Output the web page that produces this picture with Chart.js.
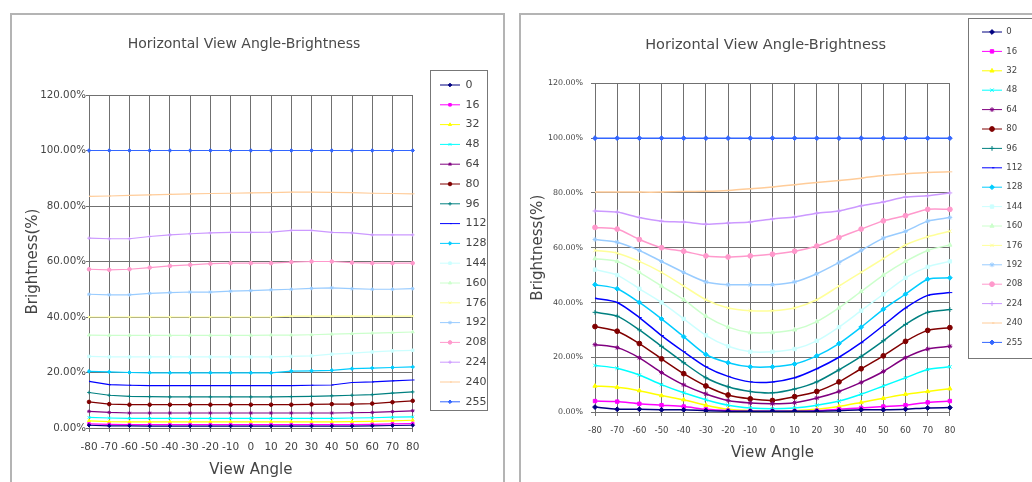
<!DOCTYPE html>
<html>
<head>
<meta charset="utf-8">
<title>Horizontal View Angle-Brightness</title>
<script src="https://cdn.jsdelivr.net/npm/chart.js@4.4.1/dist/chart.umd.min.js"></script>
<style>
    html, body {
        margin: 0;
        padding: 0;
        width: 1032px;
        height: 482px;
        overflow: hidden;
        background: #fff;
    }
    .panel {
        position: absolute;
        box-sizing: border-box;
        border: 2px solid #b4b4b4;
        background: #fff;
    }
    #leftPanel { left: 10px; top: 13px; width: 495px; height: 520px; }
    #rightPanel { left: 519px; top: 13px; width: 600px; height: 520px; }
    canvas { position: absolute; }
    #leftChart { left: 10px; top: 13px; }
    #rightChart { left: 520px; top: 13px; }
</style>
</head>
<body>
<div class="panel" id="leftPanel"></div>
<div class="panel" id="rightPanel"></div>
<canvas id="leftChart" width="495" height="469"></canvas>
<canvas id="rightChart" width="526" height="469"></canvas>

<script>
// View angles (x axis)
const angles = ['-80', '-70', '-60', '-50', '-40', '-30', '-20', '-10', '0',
                '10', '20', '30', '40', '50', '60', '70', '80'];

// Grey levels (one series each)
const levels = ['0', '16', '32', '48', '64', '80', '96', '112', '128',
                '144', '160', '176', '192', '208', '224', '240', '255'];

const yTicks = [0, 20, 40, 60, 80, 100, 120];

// Left chart - brightness (%) per level, -80 .. 80
const leftData = [
    [1.0, 0.8, 0.8, 0.7, 0.7, 0.7, 0.7, 0.7, 0.7, 0.7, 0.7, 0.7, 0.7, 0.7, 0.8, 0.9, 1.0],          // 0
    [1.5, 1.3, 1.2, 1.2, 1.2, 1.2, 1.2, 1.2, 1.2, 1.2, 1.2, 1.2, 1.2, 1.2, 1.3, 1.5, 1.6],          // 16
    [2.6, 2.3, 2.2, 2.2, 2.2, 2.2, 2.2, 2.2, 2.2, 2.2, 2.2, 2.2, 2.2, 2.3, 2.4, 2.6, 2.8],          // 32
    [3.8, 3.6, 3.5, 3.5, 3.5, 3.5, 3.5, 3.5, 3.5, 3.5, 3.5, 3.5, 3.5, 3.6, 3.7, 3.9, 4.0],          // 48
    [6.0, 5.6, 5.4, 5.4, 5.4, 5.4, 5.4, 5.4, 5.4, 5.4, 5.4, 5.4, 5.4, 5.5, 5.6, 5.9, 6.2],          // 64
    [9.4, 8.6, 8.4, 8.4, 8.4, 8.4, 8.4, 8.4, 8.4, 8.4, 8.4, 8.5, 8.6, 8.6, 8.8, 9.3, 9.8],          // 80
    [12.8, 11.8, 11.4, 11.3, 11.2, 11.2, 11.2, 11.2, 11.2, 11.2, 11.3, 11.4, 11.6, 11.8, 12.0, 12.6, 13.0], // 96
    [16.8, 15.6, 15.4, 15.3, 15.3, 15.3, 15.3, 15.3, 15.3, 15.3, 15.3, 15.4, 15.5, 16.4, 16.6, 17.0, 17.3], // 112
    [20.4, 20.2, 20.0, 19.9, 19.9, 19.9, 19.9, 19.9, 19.9, 19.9, 20.5, 20.6, 20.8, 21.4, 21.6, 21.8, 22.0], // 128
    [25.8, 25.6, 25.6, 25.6, 25.6, 25.6, 25.6, 25.6, 25.6, 25.6, 25.8, 26.0, 26.6, 27.0, 27.4, 27.8, 28.0], // 144
    [33.5, 33.4, 33.4, 33.4, 33.4, 33.4, 33.4, 33.4, 33.4, 33.5, 33.5, 33.6, 33.8, 34.0, 34.2, 34.4, 34.6], // 160
    [40.0, 40.0, 40.0, 40.0, 40.0, 40.0, 40.0, 40.0, 40.0, 40.0, 40.3, 40.3, 40.3, 40.3, 40.3, 40.3, 40.3], // 176
    [48.2, 48.0, 48.0, 48.5, 48.8, 49.0, 49.0, 49.3, 49.5, 49.8, 50.0, 50.3, 50.5, 50.2, 50.0, 50.0, 50.2], // 192
    [57.2, 57.0, 57.2, 57.8, 58.4, 58.8, 59.2, 59.4, 59.4, 59.4, 59.8, 60.0, 60.0, 59.6, 59.4, 59.4, 59.4], // 208
    [68.4, 68.2, 68.2, 69.0, 69.6, 70.0, 70.3, 70.5, 70.5, 70.6, 71.2, 71.2, 70.5, 70.3, 69.6, 69.6, 69.6], // 224
    [83.5, 83.6, 83.8, 84.0, 84.2, 84.4, 84.5, 84.6, 84.7, 84.8, 85.0, 85.0, 84.9, 84.8, 84.6, 84.5, 84.4], // 240
    [100, 100, 100, 100, 100, 100, 100, 100, 100, 100, 100, 100, 100, 100, 100, 100, 100]          // 255
];

// Right chart - brightness (%) per level, -80 .. 80
const rightData = [
    [1.8, 1.0, 1.0, 0.8, 0.8, 0.5, 0.3, 0.3, 0.3, 0.3, 0.3, 0.5, 0.8, 0.8, 1.0, 1.5, 1.6],          // 0
    [4.0, 3.8, 3.0, 2.5, 2.0, 1.0, 0.5, 0.3, 0.3, 0.3, 0.5, 1.0, 1.5, 2.0, 2.5, 3.5, 4.0],          // 16
    [9.5, 9.0, 7.8, 6.0, 4.5, 2.5, 1.0, 0.5, 0.3, 0.5, 1.0, 2.0, 3.5, 5.0, 6.5, 7.5, 8.5],          // 32
    [17.0, 16.0, 13.5, 10.0, 7.0, 4.5, 2.5, 1.5, 1.2, 1.5, 2.5, 4.0, 6.5, 9.5, 12.5, 15.5, 16.5],   // 48
    [24.6, 23.5, 19.8, 14.4, 9.9, 6.6, 4.2, 3.3, 3.0, 3.4, 5.1, 7.5, 10.8, 14.8, 19.8, 23.0, 24.0], // 64
    [31.2, 29.5, 25.0, 19.4, 14.0, 9.5, 6.2, 4.8, 4.2, 5.6, 7.5, 11.0, 15.8, 20.5, 25.8, 29.8, 30.8], // 80
    [36.4, 35.0, 30.0, 24.0, 18.0, 12.5, 9.2, 7.5, 7.0, 8.4, 11.0, 15.4, 20.3, 26.0, 32.0, 36.4, 37.4], // 96
    [41.5, 40.0, 34.5, 27.9, 22.0, 16.5, 13.0, 11.0, 11.0, 12.5, 15.8, 20.0, 25.3, 31.6, 38.0, 42.6, 43.6], // 112
    [46.5, 45.0, 40.0, 34.0, 27.5, 21.0, 18.0, 16.5, 16.5, 17.5, 20.5, 25.0, 31.0, 37.5, 43.0, 48.5, 49.0], // 128
    [52, 50, 45, 40, 34, 28, 24, 22, 22, 23, 26, 31, 37, 43, 49, 53, 55],                         // 144
    [56, 55, 51, 46, 41, 35, 31, 29, 29, 30, 33, 38, 44, 50, 55, 59, 61],                         // 160
    [59, 58, 55, 51, 46, 41, 38, 37, 37, 38, 41, 46, 51, 56, 61, 64, 66],                         // 176
    [63, 62, 59, 55, 51, 47.5, 46.5, 46.5, 46.5, 47.5, 50.5, 54.6, 59, 63.5, 66, 69.7, 71],       // 192
    [67.4, 66.8, 63, 60, 58.7, 57, 56.6, 57, 57.6, 58.7, 60.6, 63.7, 66.8, 69.8, 71.7, 74, 74],   // 208
    [73.4, 73, 71, 69.7, 69.4, 68.6, 69, 69.4, 70.5, 71.2, 72.6, 73.4, 75.3, 76.7, 78.5, 79, 80], // 224
    [80.3, 80.3, 80.3, 80.3, 80.5, 80.6, 80.9, 81.5, 82.2, 83, 83.8, 84.5, 85.4, 86.4, 87, 87.5, 87.7], // 240
    [100, 100, 100, 100, 100, 100, 100, 100, 100, 100, 100, 100, 100, 100, 100, 100, 100]          // 255
];

// Spreadsheet-style series colours and markers
const lineColors = ['#000080', '#FF00FF', '#FFFF00', '#00FFFF', '#800080', '#800000', '#008080', '#0000FF',
                    '#00CCFF', '#CCFFFF', '#CCFFCC', '#FFFF99', '#99CCFF', '#FF99CC', '#CC99FF', '#FFCC99', '#3366FF'];
const markers = ['rectRot', 'rect', 'triangle', 'crossRot', 'star', 'circle', 'cross', 'dash'];

Chart.defaults.font.family = "'DejaVu Sans', sans-serif";
Chart.defaults.color = '#444';

class ViewAngleChart {
    constructor(canvasId, data, cfg) {
        this.cfg = cfg;
        this.chart = new Chart(document.getElementById(canvasId), {
            type: 'line',
            data: {
                labels: angles,
                datasets: this.buildDatasets(data)
            },
            options: this.buildOptions(),
            plugins: [this.legendFrame()]
        });
    }

    buildDatasets(data) {
        return levels.map((level, i) => ({
            label: level,
            data: data[i],
            borderColor: lineColors[i],
            backgroundColor: lineColors[i],
            borderWidth: this.cfg.lineWidth,
            pointStyle: markers[i % markers.length],
            pointRadius: this.cfg.pointRadius,
            pointBorderWidth: 1,
            tension: this.cfg.tension
        }));
    }

    buildOptions() {
        const c = this.cfg;
        const gridColor = '#707070';
        return {
            responsive: false,
            animation: false,
            layout: { padding: { left: 0, top: 0, bottom: 0, right: c.padRight } },
            plugins: {
                title: {
                    display: true,
                    text: 'Horizontal View Angle-Brightness',
                    color: '#4a4a4a',
                    font: { size: c.titleSize, weight: 'normal' },
                    padding: { top: c.titleTop, bottom: c.titleBottom }
                },
                legend: {
                    position: 'right',
                    align: 'start',
                    labels: {
                        usePointStyle: true,
                        pointStyle: 'line',
                        pointStyleWidth: 20,
                        padding: c.legendPad,
                        color: '#444',
                        font: { size: c.legendSize }
                    }
                },
                tooltip: { enabled: false }
            },
            scales: {
                x: {
                    grid: { color: gridColor, tickLength: 4 },
                    border: { color: gridColor },
                    ticks: { autoSkip: false, maxRotation: 0, padding: c.xTickPad, font: { size: c.xTickSize } },
                    title: {
                        display: true,
                        text: 'View Angle',
                        font: { size: 15 },
                        padding: { top: 2, bottom: c.xTitleBottom }
                    },
                    afterFit: (scale) => { scale.height = c.xHeight; }
                },
                y: {
                    min: 0,
                    max: 120,
                    afterBuildTicks: (scale) => { scale.ticks = yTicks.map(v => ({ value: v })); },
                    grid: { color: gridColor, tickLength: c.yTickLen },
                    border: { color: gridColor },
                    ticks: {
                        padding: c.yTickPad,
                        font: { size: c.yTickSize },
                        callback: (v) => v.toFixed(2) + '%'
                    },
                    title: {
                        display: true,
                        text: 'Brightness(%)',
                        font: { size: 15 },
                        padding: { top: c.yTitleTop, bottom: 0 }
                    },
                    afterFit: (scale) => { scale.width = c.yWidth; }
                }
            }
        };
    }

    // Places the legend in its framed box and adds the series markers to each legend line
    legendFrame() {
        const c = this.cfg;
        return {
            id: 'legendFrame',
            afterLayout(chart) {
                const lg = chart.legend;
                lg.left = c.legendX;
                lg.top = c.legendY;
                lg.right = lg.left + lg.width;
                lg.bottom = c.frame.y + c.frame.h + 40;
                lg.height = lg.bottom - lg.top;
            },
            afterDraw(chart) {
                const ctx = chart.ctx;
                const f = c.frame;
                ctx.save();
                ctx.strokeStyle = '#777';
                ctx.lineWidth = 1;
                ctx.strokeRect(f.x + 0.5, f.y + 0.5, f.w, f.h);
                if (Chart.helpers && Chart.helpers.drawPoint) {
                    chart.legend.legendHitBoxes.forEach((hb, i) => {
                        const ds = chart.data.datasets[i];
                        ctx.fillStyle = ds.backgroundColor;
                        ctx.strokeStyle = ds.borderColor;
                        ctx.lineWidth = 1;
                        Chart.helpers.drawPoint(ctx, {
                            pointStyle: ds.pointStyle,
                            radius: c.pointRadius,
                            borderWidth: 1,
                            rotation: 0
                        }, hb.left + 10, hb.top + hb.height / 2);
                    });
                }
                ctx.restore();
            }
        };
    }
}

// Left chart: almost flat curves
const leftChart = new ViewAngleChart('leftChart', leftData, {
    lineWidth: 1.2, pointRadius: 1.8, tension: 0,
    padRight: 27,
    titleSize: 14, titleTop: 22.6, titleBottom: 42.6,
    legendPad: 8.8, legendSize: 11,
    legendX: 421.2, legendY: 57.7,
    frame: { x: 420, y: 57, w: 57, h: 340 },
    xTickSize: 10.5, xTickPad: 8.7, xTitleBottom: 3, xHeight: 54,
    yTickSize: 10.3, yTickLen: 3, yTickPad: 0, yTitleTop: 14, yWidth: 79
});

// Right chart: curves dipping at the centre angles
const rightChart = new ViewAngleChart('rightChart', rightData, {
    lineWidth: 1.5, pointRadius: 2.4, tension: 0.25,
    padRight: 34.75,
    titleSize: 14.5, titleTop: 24, titleBottom: 29,
    legendPad: 10.9, legendSize: 8.5,
    legendX: 451.1, legendY: 3.85,
    frame: { x: 448, y: 5, w: 120, h: 340 },
    xTickSize: 8.5, xTickPad: 9.2, xTitleBottom: 20, xHeight: 70,
    yTickSize: 7.9, yTickLen: 4, yTickPad: 8, yTitleTop: 9, yWidth: 75
});
</script>
</body>
</html>
